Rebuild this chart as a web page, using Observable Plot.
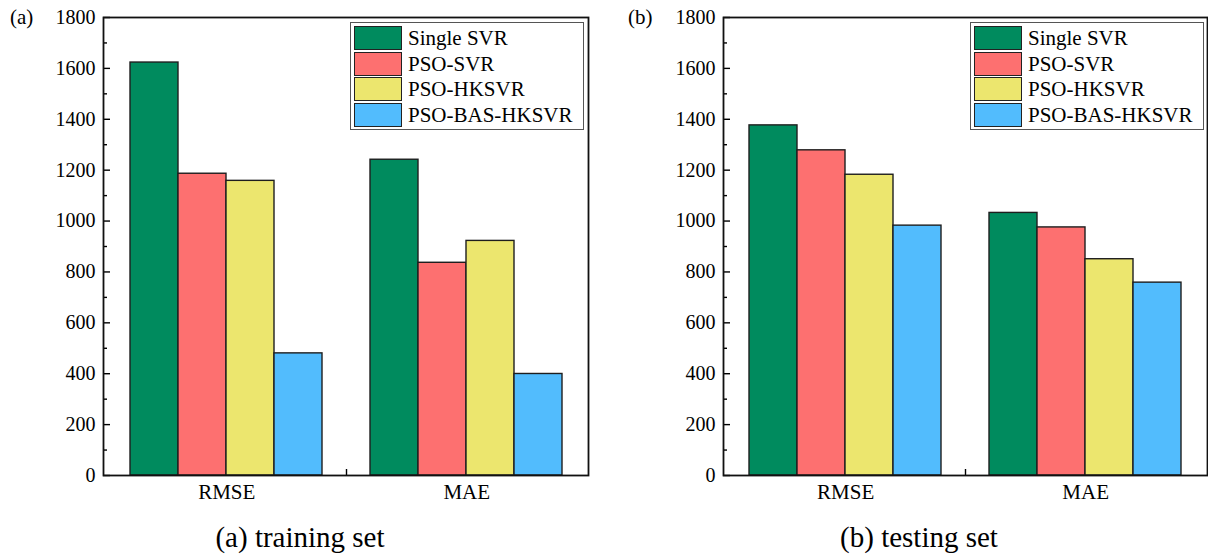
<!DOCTYPE html>
<html><head><meta charset="utf-8">
<script src="https://cdn.jsdelivr.net/npm/d3@7"></script>
<script src="https://cdn.jsdelivr.net/npm/@observablehq/plot@0.6"></script>
<style>
body{margin:0;background:#fff;}
#page{position:relative;width:1208px;height:557px;overflow:hidden;font-family:'Liberation Serif',serif;color:#000;background:#fff;}
.panel{position:absolute;top:0;}
.tag{position:absolute;font-size:21px;line-height:1;font-family:'Liberation Serif',serif;}
.legend{position:absolute;border:1px solid #555;background:#fff;box-sizing:border-box;}
.row{position:absolute;left:3px;height:24px;}
.sw{position:absolute;left:0;top:0;width:48px;height:24px;box-sizing:border-box;border:1.5px solid #222;}
.lt{position:absolute;left:54px;top:0;font-size:21px;line-height:24px;white-space:nowrap;font-family:'Liberation Serif',serif;}
.caption{position:absolute;font-size:29px;line-height:1;transform:translateX(-50%);white-space:nowrap;font-family:'Liberation Serif',serif;}
</style></head>
<body><div id="page"></div>
<script>
const models = ["Single SVR", "PSO-SVR", "PSO-HKSVR", "PSO-BAS-HKSVR"];
const colors = ["#008b5e", "#fd7070", "#ece66e", "#52bcfd"];
const metrics = ["RMSE", "MAE"];
const trainRMSE = [1623, 1186, 1158, 480];
const trainMAE = [1241, 836, 922, 399];
const testRMSE = [1376, 1278, 1182, 982];
const testMAE = [1032, 975, 850, 758];
const yTicks = [0, 200, 400, 600, 800, 1000, 1200, 1400, 1600, 1800];
const yMinor = [100, 300, 500, 700, 900, 1100, 1300, 1500, 1700];
const panelTags = ["(a)", "(b)"];
const captions = ["(a) training set", "(b) testing set"];

const page = document.getElementById("page");

function makePanel(values, cfg) {
  const rows = [];
  metrics.forEach((m, mi) => models.forEach((mod, i) => rows.push({key: m + "|" + mod, metric: m, model: mod, value: values[mi][i]})));
  const domain = [];
  metrics.forEach((m, mi) => { if (mi > 0) domain.push("gap"); models.forEach(mod => domain.push(m + "|" + mod)); });
  const fw = cfg.width - cfg.ml - cfg.mr;
  const step = fw / (domain.length + 1);
  const chart = Plot.plot({
    width: cfg.width, height: 515,
    marginLeft: cfg.ml, marginRight: cfg.mr, marginTop: 17, marginBottom: 40,
    style: {fontFamily: "Liberation Serif", fontSize: "20px", color: "#000", background: "#fff"},
    x: {type: "band", domain, paddingInner: 0, paddingOuter: 0.5, axis: null},
    y: {domain: [0, 1800], axis: null},
    color: {domain: models, range: colors},
    marks: [
      Plot.barY(rows, {x: "key", y: "value", fill: "model", stroke: "#1e1e1e", strokeWidth: 1.4}),
      Plot.axisY({ticks: yTicks, tickSize: 0, tickPadding: 8, tickFormat: d => String(d), label: null, fontSize: 20}),
      Plot.axisY({ticks: yTicks, tickSize: -7, tickFormat: () => "", label: null, strokeWidth: 1.4}),
      Plot.axisY({ticks: yMinor, tickSize: -4, tickFormat: () => "", label: null, strokeWidth: 1.4}),
      Plot.axisX({ticks: metrics.map(m => m + "|" + models[1]), tickSize: 0, tickPadding: 9, dx: step / 2, tickFormat: d => d.split("|")[0], label: null, fontSize: 21}),
      Plot.axisX({ticks: ["gap"], tickSize: -6, tickFormat: () => "", label: null, strokeWidth: 1.4}),
      Plot.frame({stroke: "#111", strokeWidth: 1.8})
    ]
  });
  const wrap = document.createElement("div");
  wrap.className = "panel";
  wrap.style.left = cfg.left + "px";
  wrap.appendChild(chart);
  page.appendChild(wrap);
}

makePanel([trainRMSE, trainMAE], {left: 0, width: 604, ml: 103, mr: 16});
makePanel([testRMSE, testMAE], {left: 604, width: 604, ml: 119, mr: 1});

const tagPos = [[10, 7], [628, 7]];
panelTags.forEach((t, i) => {
  const d = document.createElement("div");
  d.className = "tag"; d.textContent = t;
  d.style.left = tagPos[i][0] + "px"; d.style.top = tagPos[i][1] + "px";
  page.appendChild(d);
});

const legendPos = [350, 970];
legendPos.forEach(lx => {
  const lg = document.createElement("div");
  lg.className = "legend";
  lg.style.left = lx + "px"; lg.style.top = "22px";
  lg.style.width = "234px"; lg.style.height = "108px";
  models.forEach((m, i) => {
    const r = document.createElement("div");
    r.className = "row";
    r.style.top = (3 + i * 25.6) + "px";
    const sw = document.createElement("div");
    sw.className = "sw"; sw.style.background = colors[i];
    const tx = document.createElement("div");
    tx.className = "lt"; tx.textContent = m;
    r.appendChild(sw); r.appendChild(tx);
    lg.appendChild(r);
  });
  page.appendChild(lg);
});

const capX = [300, 919];
captions.forEach((c, i) => {
  const d = document.createElement("div");
  d.className = "caption"; d.textContent = c;
  d.style.left = capX[i] + "px"; d.style.top = "523px";
  page.appendChild(d);
});
</script>
</body></html>
